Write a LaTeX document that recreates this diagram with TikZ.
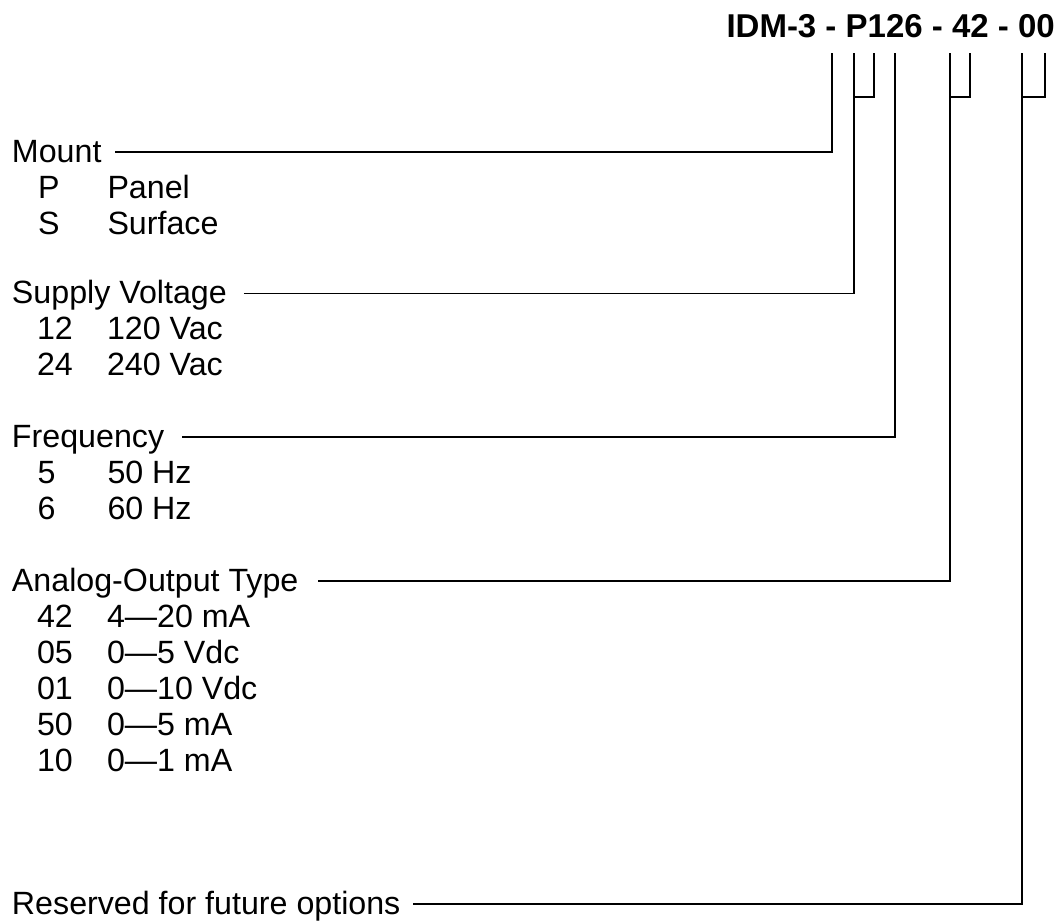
\documentclass[tikz,border=0pt]{standalone}
\usepackage{fontspec}
\setmainfont{Liberation Sans}
\begin{document}
\begin{tikzpicture}[x=1pt,y=-1pt,
  txt/.style={inner sep=0pt, outer sep=0pt, text height=20pt, text depth=0pt, anchor=west, font=\fontsize{32.2}{36}\selectfont},
  hdr/.style={txt},
  ln/.style={line width=1.6pt, black, line join=miter},
  title/.style={inner sep=0pt, anchor=base east, font=\fontsize{33}{40}\selectfont\bfseries}]
\useasboundingbox (0,0) rectangle (1057,922);
\fill[white] (0,0) rectangle (1057,922);

\node[title] (t) at (1055,37) {IDM-3 - P126 - 42 - 00};

% headings
\node[hdr] (mount) at (12,152) {Mount};
\node[hdr] (supply) at (12,293.5) {Supply Voltage};
\node[hdr] (freq) at (12,437) {Frequency};
\node[hdr] (analog) at (12,581) {Analog-Output Type};
\node[hdr] (res) at (12,904) {Reserved for future options};

% items
\node[txt] (mP) at (38,188) {P};    \node[txt] (mPv) at (107.5,188) {Panel};
\node[txt] (mS) at (38,224) {S};    \node[txt] (mSv) at (107.5,224) {Surface};
\node[txt] (s12) at (37,329.5) {12}; \node[txt] (s12v) at (107,329.5) {120 Vac};
\node[txt] (s24) at (37,365.5) {24}; \node[txt] (s24v) at (107,365.5) {240 Vac};
\node[txt] (f5) at (37.5,473) {5};   \node[txt] (f5v) at (107.5,473) {50 Hz};
\node[txt] (f6) at (37.5,509) {6};   \node[txt] (f6v) at (107.5,509) {60 Hz};
\node[txt] (a42) at (37,617) {42};  \node[txt] (a42v) at (107,617) {4—20 mA};
\node[txt] (a05) at (37,653) {05};  \node[txt] (a05v) at (107,653) {0—5 Vdc};
\node[txt] (a01) at (37,689) {01};  \node[txt] (a01v) at (107,689) {0—10 Vdc};
\node[txt] (a50) at (37,725) {50};  \node[txt] (a50v) at (107,725) {0—5 mA};
\node[txt] (a10) at (37,761) {10};  \node[txt] (a10v) at (107,761) {0—1 mA};

% connector corners and tops
\coordinate (mc) at (832,152);   \coordinate (mt) at (832,53);
\coordinate (sc) at (854,293.5); \coordinate (st) at (854,53);
\coordinate (fc) at (895,437);   \coordinate (ft) at (895,53);
\coordinate (ac) at (950,581);   \coordinate (at1) at (950,53);
\coordinate (rc) at (1022,904);  \coordinate (rt) at (1022,53);
% bracket partners
\coordinate (sb) at (854,97);  \coordinate (sb2) at (874,97);  \coordinate (sbt) at (874,53);
\coordinate (ab) at (950,97);  \coordinate (ab2) at (970,97);  \coordinate (abt) at (970,53);
\coordinate (rb) at (1022,97); \coordinate (rb2) at (1045,97); \coordinate (rbt) at (1045,53);

\draw[ln] ([xshift=14pt]mount.east) -- (mc) -- (mt);
\draw[ln] ([xshift=17pt]supply.east) -- (sc) -- (st);
\draw[ln] (sb) -- (sb2) -- (sbt);
\draw[ln] ([xshift=18pt]freq.east) -- (fc) -- (ft);
\draw[ln] ([xshift=20pt]analog.east) -- (ac) -- (at1);
\draw[ln] (ab) -- (ab2) -- (abt);
\draw[ln] ([xshift=13pt]res.east) -- (rc) -- (rt);
\draw[ln] (rb) -- (rb2) -- (rbt);
\end{tikzpicture}
\end{document}
